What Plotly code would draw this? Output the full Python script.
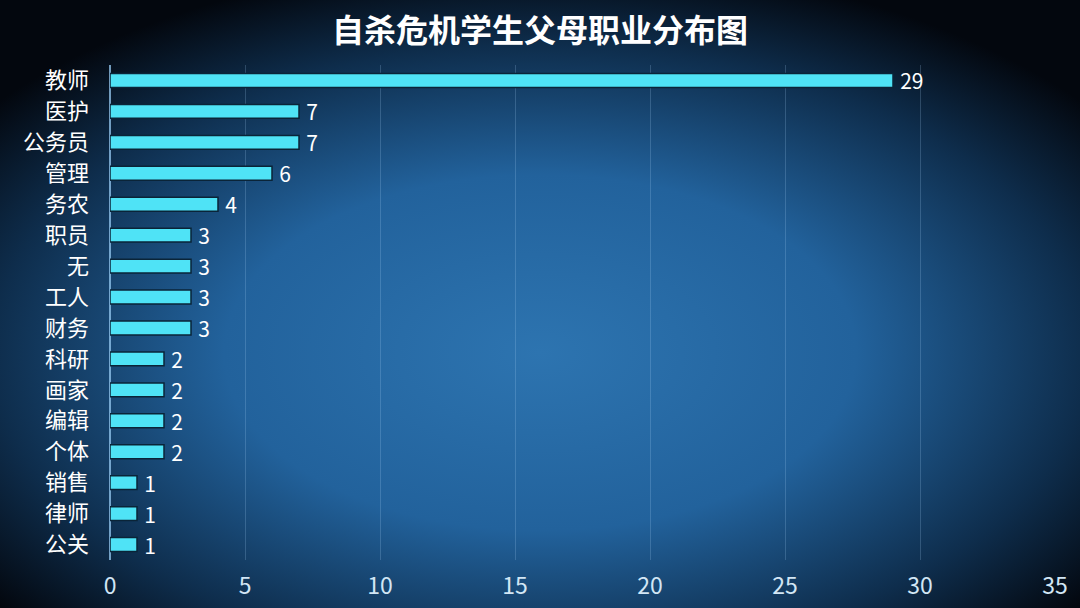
import base64
import plotly.graph_objects as go

# data
occupations = ['教师', '医护', '公务员', '管理', '务农', '职员', '无', '工人',
               '财务', '科研', '画家', '编辑', '个体', '销售', '律师', '公关']
counts = [29, 7, 7, 6, 4, 3, 3, 3, 3, 2, 2, 2, 2, 1, 1, 1]
x_ticks = [0, 5, 10, 15, 20, 25, 30, 35]

W, H = 1080, 608
M = dict(l=110, r=25, t=65, b=48)
pw = W - M['l'] - M['r']
ph = H - M['t'] - M['b']

# radial blue glow behind everything
svg = (
    "<svg xmlns='http://www.w3.org/2000/svg' width='1080' height='608' preserveAspectRatio='none'>"
    "<defs><radialGradient id='g' cx='0.5' cy='0.58' r='0.65'>"
    "<stop offset='0' stop-color='#2d74b0'/>"
    "<stop offset='0.45' stop-color='#22629c'/>"
    "<stop offset='0.78' stop-color='#0e2d4c'/>"
    "<stop offset='1' stop-color='#03070e'/>"
    "</radialGradient></defs>"
    "<rect width='1080' height='608' fill='url(#g)'/></svg>"
)
bg_src = "data:image/svg+xml;base64," + base64.b64encode(svg.encode()).decode()

fig = go.Figure()

fig.add_trace(go.Bar(
    x=counts,
    y=occupations,
    orientation='h',
    marker=dict(color='#4fe3f6', line=dict(color='#0a2438', width=1.5)),
    texttemplate='\u2009%{x}',
    textposition='outside',
    constraintext='none',
    textfont=dict(color='white', size=21),
    cliponaxis=False,
    hoverinfo='x+y',
))

fig.update_layout(
    width=W,
    height=H,
    margin=M,
    paper_bgcolor='#06101c',
    plot_bgcolor='rgba(0,0,0,0)',
    font=dict(family='Noto Sans CJK SC', color='white'),
    title=dict(
        text='<b>自杀危机学生父母职业分布图</b>',
        x=0.5, xanchor='center', y=1 - 31 / H, yanchor='middle',
        font=dict(size=32, color='white'),
    ),
    bargap=0.55,
    showlegend=False,
    images=[dict(
        source=bg_src,
        xref='paper', yref='paper',
        x=-M['l'] / pw, y=1 + M['t'] / ph,
        sizex=W / pw, sizey=H / ph,
        xanchor='left', yanchor='top',
        sizing='stretch', layer='below',
    )],
)

fig.update_xaxes(
    range=[0, 35],
    tickvals=x_ticks,
    automargin=False,
    showgrid=True,
    gridcolor='rgba(170,210,245,0.22)',
    gridwidth=1,
    zeroline=True,
    zerolinecolor='rgba(150,200,240,0.75)',
    zerolinewidth=1.5,
    tickfont=dict(size=23, color='#d2e6f5'),
    ticks='',
    ticklabelstandoff=10,
)

fig.update_yaxes(
    autorange='reversed',
    tickmode='array',
    tickvals=occupations,
    ticktext=occupations,
    automargin=False,
    showgrid=False,
    tickfont=dict(size=22, color='white'),
    ticks='',
    ticklabelstandoff=20,
)

fig.write_html("out.html", config={'displayModeBar': False},
               post_script="document.body.style.margin='0';")
